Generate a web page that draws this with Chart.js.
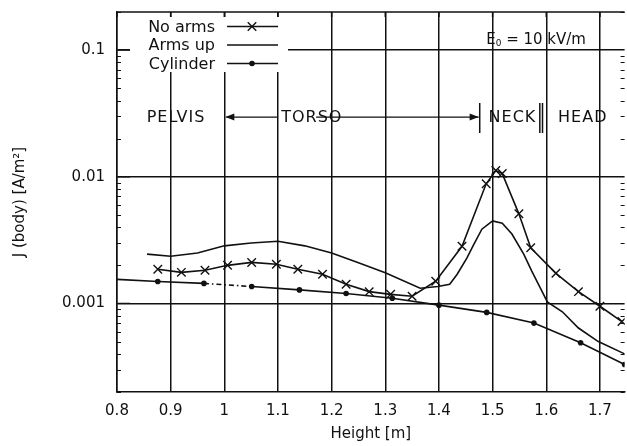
<!DOCTYPE html>
<html>
<head>
<meta charset="utf-8">
<script src="https://cdn.jsdelivr.net/npm/chart.js@4/dist/chart.umd.min.js"></script>
<style>
  html, body { margin: 0; padding: 0; background: #fff; overflow: hidden; }
  canvas { display: block; }
</style>
</head>
<body>
<!-- The layout keeps a few pixels of right margin; the canvas is a little wider than the view so the plot runs to the edge -->
<canvas id="c" width="632" height="446"></canvas>
<script>
// Axis ticks
const heightTicks = [0.8, 0.9, 1.0, 1.1, 1.2, 1.3, 1.4, 1.5, 1.6, 1.7];
const heightTickLabels = ['0.8', '0.9', '1', '1.1', '1.2', '1.3', '1.4', '1.5', '1.6', '1.7'];
const densityTicks = [0.001, 0.01, 0.1];
const densityTickLabels = ['0.001', '0.01', '0.1'];

// Series: induced current density J(body) [A/m^2] versus height [m]
const seriesNames = ['No arms', 'Arms up', 'Cylinder'];

const noArmsHeight = [0.876, 0.92, 0.964, 1.006, 1.051, 1.097, 1.137, 1.183, 1.227, 1.27, 1.31, 1.35,
                      1.394, 1.443, 1.488, 1.506, 1.518, 1.549, 1.571, 1.618, 1.66, 1.7, 1.741];
const noArmsJ = [0.00186, 0.00176, 0.00183, 0.0020, 0.00211, 0.00204, 0.00186, 0.0017, 0.00142, 0.00124, 0.00118, 0.00114,
                 0.0015, 0.00283, 0.0088, 0.0112, 0.0106, 0.0051, 0.00275, 0.00173, 0.00124, 0.00095, 0.00072];

const armsUpHeight = [0.856, 0.9, 0.95, 1.0, 1.05, 1.1, 1.15, 1.2, 1.25, 1.3, 1.365, 1.398, 1.42, 1.434,
                      1.452, 1.465, 1.48, 1.5, 1.518, 1.536, 1.558, 1.573, 1.59, 1.602, 1.63, 1.66, 1.697, 1.746];
const armsUpJ = [0.00245, 0.00236, 0.0025, 0.00285, 0.0030, 0.0031, 0.00285, 0.0025, 0.0021, 0.00175, 0.00132, 0.00136, 0.00142, 0.0017,
                 0.00228, 0.00293, 0.00386, 0.00448, 0.0043, 0.00353, 0.00245, 0.0018, 0.0013, 0.00103, 0.00086, 0.00064, 0.0005, 0.0004];

const cylinderHeight = [0.8, 0.876, 0.962, 1.051, 1.14, 1.227, 1.313, 1.4, 1.489, 1.577, 1.664, 1.746];
const cylinderJ = [0.00155, 0.00149, 0.00144, 0.00136, 0.00128, 0.0012, 0.0011, 0.00097, 0.00085, 0.0007, 0.00049, 0.00033];

// Body regions along the height axis
const regionNames = ['PELVIS', 'TORSO', 'NECK', 'HEAD'];
const fieldLabel = ['E', '0', ' = 10 kV/m'];

const INK = '#111';
const FONT = '"DejaVu Sans", "Liberation Sans", sans-serif';
Chart.defaults.font.family = FONT;
Chart.defaults.color = INK;

const toPoints = (xs, ys) => xs.map((x, i) => ({ x: x, y: ys[i] }));

function drawMarker(ctx, style, r, x, y) {
  ctx.beginPath();
  if (style === 'crossRot') {
    const d = r * Math.SQRT1_2;
    ctx.moveTo(x - d, y - d); ctx.lineTo(x + d, y + d);
    ctx.moveTo(x - d, y + d); ctx.lineTo(x + d, y - d);
    ctx.stroke();
  } else if (style === 'circle') {
    ctx.arc(x, y, r, 0, Math.PI * 2);
    ctx.fill();
  }
}

// Pin the plot area: fixed axis sizes and no extra label padding
const fixBox = (size, horizontal) => s => {
  if (horizontal) s.height = size; else s.width = size;
  s.paddingTop = 0; s.paddingBottom = 0; s.paddingLeft = 0; s.paddingRight = 0;
};

// Frame, inward minor ticks, key, field strength and body-region annotations
const decorations = {
  id: 'decorations',
  afterDatasetsDraw(chart) {
    const { ctx, chartArea: a, scales } = chart;
    const xs = scales.x, ys = scales.y;
    ctx.save();
    ctx.strokeStyle = INK;
    ctx.fillStyle = INK;

    // top frame line and top tick marks
    ctx.lineWidth = 1.5;
    ctx.beginPath();
    ctx.moveTo(a.left, a.top); ctx.lineTo(a.right, a.top);
    heightTicks.forEach(v => {
      const px = xs.getPixelForValue(v);
      ctx.moveTo(px, a.top); ctx.lineTo(px, a.top + 5);
    });
    ctx.stroke();

    // minor ticks of the log axis, left and right edges
    ctx.lineWidth = 1.2;
    ctx.beginPath();
    for (let d = 1e-4; d < 1; d *= 10) {
      for (let k = 2; k <= 9; k++) {
        const v = k * d;
        if (v < ys.min || v > ys.max) continue;
        const py = Math.round(ys.getPixelForValue(v)) + 0.5;
        ctx.moveTo(a.left, py); ctx.lineTo(a.left + 4, py);
        ctx.moveTo(a.right - 4, py); ctx.lineTo(a.right, py);
      }
    }
    densityTicks.forEach(v => {
      const py = ys.getPixelForValue(v);
      ctx.moveTo(a.left, py); ctx.lineTo(a.left + 13, py);
    });
    ctx.stroke();

    // key box
    ctx.fillStyle = '#fff';
    ctx.fillRect(a.left + 13, a.top + 5, 158, 55);
    ctx.fillStyle = INK;
    ctx.font = '16px ' + FONT;
    ctx.textAlign = 'right';
    ctx.textBaseline = 'middle';
    const rows = [a.top + 14.5, a.top + 33, a.top + 51.5];
    chart.data.datasets.forEach((ds, i) => {
      const ry = rows[i];
      ctx.fillText(ds.label, a.left + 98, ry + 1);
      ctx.lineWidth = ds.borderWidth;
      ctx.beginPath();
      ctx.moveTo(a.left + 110, ry); ctx.lineTo(a.left + 161, ry);
      ctx.stroke();
      if (ds.keyMarker) {
        ctx.lineWidth = 1.4;
        drawMarker(ctx, ds.pointStyle, ds.keyMarker, a.left + 135, ry);
      }
    });

    // applied field label
    ctx.textAlign = 'left';
    ctx.font = '15px ' + FONT;
    let fx = xs.getPixelForValue(1.488);
    const fy = ys.getPixelForValue(0.12);
    ctx.fillText(fieldLabel[0], fx, fy);
    fx += ctx.measureText(fieldLabel[0]).width;
    ctx.font = '9px ' + FONT;
    ctx.fillText(fieldLabel[1], fx, fy + 4);
    fx += ctx.measureText(fieldLabel[1]).width;
    ctx.font = '15px ' + FONT;
    ctx.fillText(fieldLabel[2], fx, fy);

    // body regions
    const ry = ys.getPixelForValue(0.0296);
    ctx.font = '16px ' + FONT;
    if ('letterSpacing' in ctx) ctx.letterSpacing = '1px';
    ctx.textAlign = 'center';
    const px = v => xs.getPixelForValue(v);
    ctx.fillText(regionNames[0], px(0.910), ry + 1);
    ctx.fillText(regionNames[1], px(1.163), ry + 1);
    ctx.fillText(regionNames[2], px(1.537), ry + 1);
    ctx.fillText(regionNames[3], px(1.668), ry + 1);
    if ('letterSpacing' in ctx) ctx.letterSpacing = '0px';

    ctx.lineWidth = 1.4;
    ctx.beginPath();
    // arrow to pelvis boundary
    ctx.moveTo(px(1.0) + 2, ry); ctx.lineTo(px(1.1), ry);
    // arrow to neck boundary
    ctx.moveTo(px(1.171), ry); ctx.lineTo(px(1.474), ry);
    ctx.stroke();
    // arrow heads
    ctx.beginPath();
    const lx = px(1.0) + 1;
    ctx.moveTo(lx, ry); ctx.lineTo(lx + 9, ry - 3.5); ctx.lineTo(lx + 9, ry + 3.5); ctx.closePath();
    const rx = px(1.474);
    ctx.moveTo(rx, ry); ctx.lineTo(rx - 9, ry - 3.5); ctx.lineTo(rx - 9, ry + 3.5); ctx.closePath();
    ctx.fill();
    // boundary bars
    ctx.lineWidth = 1.5;
    ctx.beginPath();
    ctx.moveTo(px(1.476), ry - 14); ctx.lineTo(px(1.476), ry + 16);
    ctx.moveTo(px(1.588), ry - 14); ctx.lineTo(px(1.588), ry + 16);
    ctx.moveTo(px(1.593), ry - 14); ctx.lineTo(px(1.593), ry + 16);
    ctx.stroke();

    ctx.restore();
  }
};

new Chart(document.getElementById('c'), {
  type: 'line',
  data: {
    datasets: [
      {
        label: seriesNames[0],
        data: toPoints(noArmsHeight, noArmsJ),
        borderColor: INK, backgroundColor: INK,
        borderWidth: 1.6,
        pointStyle: 'crossRot', pointRadius: 6, pointBorderWidth: 1.4,
        keyMarker: 6,
        tension: 0, order: 0
      },
      {
        label: seriesNames[1],
        data: toPoints(armsUpHeight, armsUpJ),
        borderColor: INK, backgroundColor: INK,
        borderWidth: 1.6,
        pointRadius: 0,
        keyMarker: 0,
        tension: 0, order: 2
      },
      {
        label: seriesNames[2],
        data: toPoints(cylinderHeight, cylinderJ),
        borderColor: INK, backgroundColor: INK,
        borderWidth: 1.6,
        pointStyle: 'circle',
        pointRadius: ctx => (ctx.dataIndex === 0 ? 0 : 2.8),
        pointBorderWidth: 0,
        keyMarker: 2.8,
        segment: { borderDash: ctx => (ctx.p0DataIndex === 2 ? [5, 3, 1.5, 3] : undefined) },
        tension: 0, order: 1
      }
    ]
  },
  options: {
    responsive: false,
    animation: false,
    devicePixelRatio: 1,
    layout: { padding: { top: 12, right: 0, left: 0, bottom: 0 } },
    plugins: {
      legend: { display: false },
      tooltip: { enabled: false }
    },
    scales: {
      x: {
        type: 'linear',
        min: 0.8, max: 1.746,
        afterBuildTicks: s => { s.ticks = heightTicks.map(v => ({ value: v })); },
        afterFit: fixBox(54, true),
        ticks: {
          callback: (v, i) => heightTickLabels[i],
          font: { size: 15 }, color: INK, padding: 10,
          maxRotation: 0, autoSkip: false
        },
        grid: { color: INK, lineWidth: 1.5, drawTicks: false },
        border: { display: true, color: INK, width: 1.5 },
        title: {
          display: true, text: 'Height [m]',
          font: { size: 15 }, color: INK, padding: { top: 0, bottom: 3 }
        }
      },
      y: {
        type: 'logarithmic',
        min: 0.0002, max: 0.2,
        afterBuildTicks: s => { s.ticks = densityTicks.map(v => ({ value: v })); },
        afterFit: fixBox(117, false),
        ticks: {
          callback: (v, i) => densityTickLabels[i],
          font: { size: 15 }, color: INK, padding: 12,
          autoSkip: false
        },
        grid: { color: INK, lineWidth: 1.5, drawTicks: false },
        border: { display: true, color: INK, width: 1.5 },
        title: {
          display: true, text: 'J (body) [A/m\u00B2]',
          font: { size: 15 }, color: INK, padding: { top: 11, bottom: 0 }
        }
      }
    }
  },
  plugins: [decorations]
});
</script>
</body>
</html>
